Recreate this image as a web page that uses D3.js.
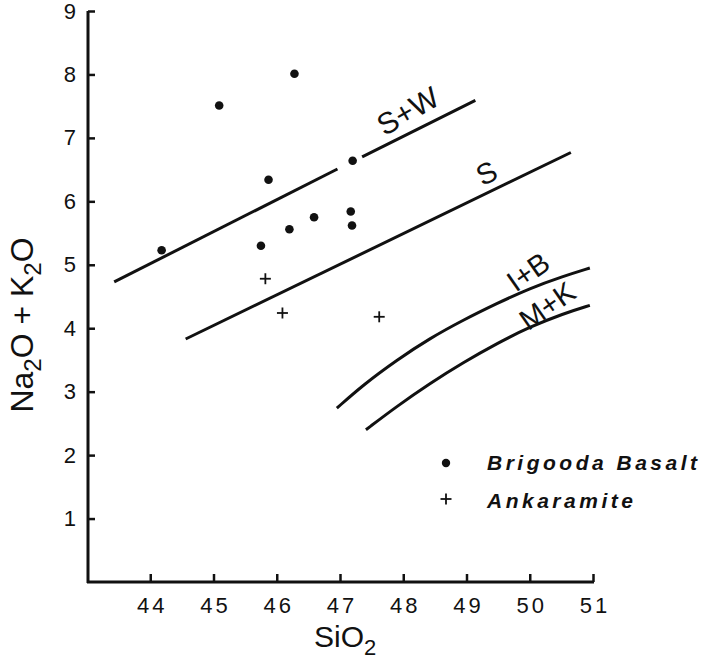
<!DOCTYPE html>
<html><head><meta charset="utf-8">
<script src="https://cdn.jsdelivr.net/npm/d3@7"></script>
<style>
html,body{margin:0;padding:0;background:#fff;}
svg{display:block;font-family:"Liberation Sans",Arial,Helvetica,sans-serif;}
</style></head>
<body>
<svg id="chart" width="704" height="662"></svg>
<script>
// ---- data ----
const xTicks = [44,45,46,47,48,49,50,51];
const yTicks = [1,2,3,4,5,6,7,8,9];
const basaltSiO2 = [44.18,45.09,46.28,47.20,45.87,45.75,46.20,46.59,47.17,47.19];
const basaltAlk  = [5.23, 7.51, 8.01, 6.64, 6.34, 5.30, 5.56, 5.75, 5.84, 5.62];
const ankSiO2 = [45.82,46.09,47.62];
const ankAlk  = [4.78, 4.24, 4.18];
// S+W line (two segments, broken around a point)
const swSeg1 = [[43.43,4.73],[46.96,6.51]];
const swSeg2 = [[47.35,6.70],[49.14,7.59]];
const sLine  = [[44.56,3.83],[50.65,6.77]];
const ibCurve = [[46.95,2.74],[47.37,3.11],[47.90,3.50],[48.42,3.84],[48.95,4.13],[49.48,4.39],[50.00,4.63],[50.53,4.82],[50.95,4.95]];
const mkCurve = [[47.41,2.40],[47.90,2.77],[48.42,3.13],[48.95,3.46],[49.48,3.76],[50.00,4.02],[50.53,4.23],[50.95,4.36]];
const legendNames = ["Brigooda Basalt","Ankaramite"];

// ---- scales ----
const svg = d3.select("#chart");
const x = d3.scaleLinear().domain([43,51]).range([87,593]);
const y = d3.scaleLinear().domain([0,9]).range([582,11]);
const ink = "#111";

// axes
const xAxis = d3.axisBottom(x).tickValues(xTicks).tickSizeInner(-8).tickSizeOuter(0).tickPadding(15);
const yAxis = d3.axisLeft(y).tickValues(yTicks).tickSizeInner(-7).tickSizeOuter(0).tickPadding(12);
const gx = svg.append("g").attr("transform","translate(0,582)").call(xAxis);
const gy = svg.append("g").attr("transform","translate(88,0)").call(yAxis);
[gx,gy].forEach(g=>{
  g.select(".domain").remove();
  g.attr("font-size",null).attr("font-family",null);
  g.selectAll(".tick line").attr("stroke",ink).attr("stroke-width",2.5);
  g.selectAll(".tick text").attr("fill",ink).style("font-size","22px");
});
gx.selectAll(".tick text").attr("letter-spacing",3).attr("dx",1.5);
// axis lines
svg.append("line").attr("x1",88).attr("x2",88).attr("y1",y(9)).attr("y2",583)
  .attr("stroke",ink).attr("stroke-width",3);
svg.append("line").attr("x1",87).attr("x2",x(51)+1).attr("y1",582).attr("y2",582)
  .attr("stroke",ink).attr("stroke-width",3);

// axis titles
const xt = svg.append("text").attr("x",314).attr("y",647).style("font-size","30px").attr("fill",ink);
xt.append("tspan").text("SiO");
xt.append("tspan").text("2").style("font-size","22px").attr("dy",8);

const yt = svg.append("text").attr("transform","translate(33,325) rotate(-90)")
  .attr("text-anchor","middle").style("font-size","32px").attr("fill",ink);
yt.append("tspan").text("Na");
yt.append("tspan").text("2").style("font-size","24px").attr("dy",8);
yt.append("tspan").text("O + K").attr("dy",-8);
yt.append("tspan").text("2").style("font-size","24px").attr("dy",8);
yt.append("tspan").text("O").attr("dy",-8);

// lines
const line = d3.line().x(d=>x(d[0])).y(d=>y(d[1]));
const curve = d3.line().x(d=>x(d[0])).y(d=>y(d[1])).curve(d3.curveBasis);
[swSeg1,swSeg2,sLine].forEach(s=>{
  svg.append("path").attr("d",line(s)).attr("fill","none").attr("stroke",ink).attr("stroke-width",3);
});
[ibCurve,mkCurve].forEach(s=>{
  svg.append("path").attr("d",curve(s)).attr("fill","none").attr("stroke",ink).attr("stroke-width",3);
});

// line labels
function lab(t,px,py,rot,fs){
  svg.append("text").attr("transform",`translate(${px},${py}) rotate(${rot})`)
    .attr("text-anchor","middle").style("font-size",fs+"px").attr("fill",ink).text(t);
}
lab("S+W",413,120,-30,30);
lab("S",491,182,-27,29);
lab("I+B",534,280,-35,29);
lab("M+K",553,314,-35,29);

// points
svg.append("g").selectAll("circle").data(basaltSiO2).join("circle")
  .attr("cx",(d)=>x(d)).attr("cy",(d,i)=>y(basaltAlk[i])).attr("r",4.3).attr("fill",ink);
const cs = 5.5;
const cg = svg.append("g").attr("stroke",ink).attr("stroke-width",1.8);
ankSiO2.forEach((d,i)=>{
  const cx=x(d), cy=y(ankAlk[i]);
  cg.append("line").attr("x1",cx-cs).attr("x2",cx+cs).attr("y1",cy).attr("y2",cy);
  cg.append("line").attr("x1",cx).attr("x2",cx).attr("y1",cy-cs).attr("y2",cy+cs);
});

// legend
svg.append("circle").attr("cx",446).attr("cy",463).attr("r",4.2).attr("fill",ink);
const lx=446, ly=499;
svg.append("line").attr("x1",lx-5.5).attr("x2",lx+5.5).attr("y1",ly).attr("y2",ly).attr("stroke",ink).attr("stroke-width",1.8);
svg.append("line").attr("x1",lx).attr("x2",lx).attr("y1",ly-5.5).attr("y2",ly+5.5).attr("stroke",ink).attr("stroke-width",1.8);
legendNames.forEach((n,i)=>{
  svg.append("text").attr("x",487).attr("y",470+i*38).style("font-size","21px")
    .attr("font-weight","bold").attr("font-style","italic").attr("letter-spacing",3.5)
    .attr("fill",ink).text(n);
});
</script>
</body></html>
